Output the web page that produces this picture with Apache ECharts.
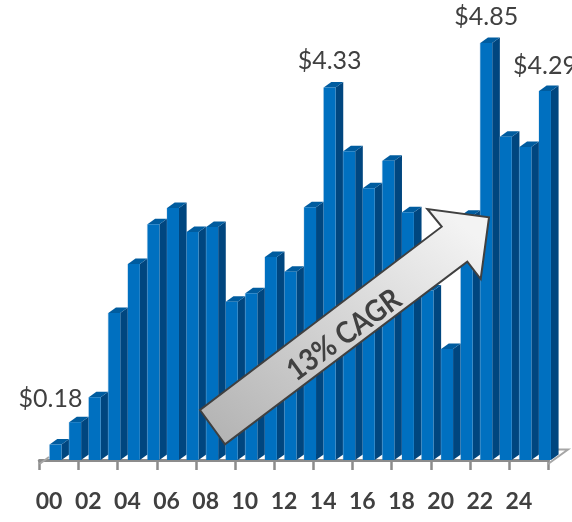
<!DOCTYPE html>
<html><head><meta charset="utf-8">
<style>html,body{margin:0;padding:0;background:#fff}#c{width:572px;height:522px}</style>
<script src="https://cdn.jsdelivr.net/npm/echarts@6/dist/echarts.min.js"></script>
</head><body><div id="c"></div>
<script>
const years = ['00','01','02','03','04','05','06','07','08','09','10','11','12','13','14','15','16','17','18','19','20','21','22','23','24','25'];
const values = [0.18,0.44,0.73,1.71,2.28,2.74,2.93,2.65,2.71,1.84,1.94,2.36,2.19,2.94,4.33,3.59,3.16,3.48,2.88,1.97,1.29,2.84,4.85,3.76,3.64,4.29];
const calloutYears = ['00','14','22','25'];
const arrowText = '13% CAGR';

const FONT = 'Lato, "Open Sans", sans-serif';
const calloutShift = {'00':[-5,-46],'14':[0,-27],'22':[0,-26],'25':[0,-25]};
const chart = echarts.init(document.getElementById('c'), null, {renderer:'canvas'});

function renderBar(params, api){
  const i = params.dataIndex;
  const p = api.coord([api.value(0), api.value(1)]);
  const base = api.coord([api.value(0), 0]);
  const band = api.size([1,0])[0];
  const x0 = p[0]+0.5, w = band*0.61, d = band*0.39, lift = 5.5;
  const y = p[1], b = base[1];
  const kids = [
    {type:'polygon',shape:{points:[[x0+w,y],[x0+w+d,y-lift],[x0+w+d,b-lift],[x0+w,b]]},style:{fill:'#00467f'}},
    {type:'polygon',shape:{points:[[x0,y],[x0+d,y-lift],[x0+w+d,y-lift],[x0+w,y]]},style:{fill:'#005c9f'}},
    {type:'rect',shape:{x:x0-0.6,y:y,width:0.6,height:b-y},style:{fill:'rgba(120,165,205,0.35)'}},
    {type:'rect',shape:{x:x0,y:y,width:w,height:b-y},style:{fill:'#0070c0'}}
  ];
  const yr = years[i];
  if (calloutYears.includes(yr)){
    const s = calloutShift[yr];
    kids.push({type:'text',style:{x:x0+w/2+s[0],y:y+s[1],text:'$'+values[i].toFixed(2),fill:'#404040',
      font:'25px '+FONT,align:'center',verticalAlign:'middle'}});
  }
  return {type:'group',children:kids};
}

const arrowPts = [[200,410],[225,444.3],[467.3,261.7],[480.7,279],[489,217.3],[427.3,209],[441.7,226.7]];

chart.setOption({
  animation:false,
  grid:{left:39.3,width:509,top:30,bottom:62,containLabel:false},
  xAxis:{type:'category',data:years,offset:4,boundaryGap:true,
    axisLine:{show:true,lineStyle:{color:'#8c8c8c',width:3}},
    axisTick:{show:true,interval:1,length:10,alignWithLabel:false,lineStyle:{color:'#8c8c8c',width:2.5}},
    axisLabel:{interval:1,margin:26,color:'#404040',fontFamily:'Lato',fontWeight:'bold',fontSize:23,hideOverlap:false},
    splitLine:{show:false}},
  yAxis:{type:'value',min:0,max:5,show:false,splitLine:{show:false}},
  series:[{type:'custom',renderItem:renderBar,clip:false,encode:{x:0,y:1},z:3,
    data:years.map((y,i)=>[i,values[i]])}],
  graphic:[
    {type:'polyline',z:1,shape:{points:[[39.5,464],[49,457]]},style:{stroke:'#a6a6a6',lineWidth:2,fill:null}},
    {type:'polyline',z:1,shape:{points:[[548,464],[568,449.5],[555,449.5]]},style:{stroke:'#a6a6a6',lineWidth:2,fill:null}},
    {type:'polygon',z:50,shape:{points:arrowPts},
      style:{stroke:'#404040',lineWidth:2,lineJoin:'miter',
        fill:new echarts.graphic.LinearGradient(235,450,430,200,[{offset:0,color:'#b4b4b4'},{offset:1,color:'#f3f3f3'}],true)}},
    {type:'text',z:51,x:344,y:335,rotation:36*Math.PI/180,scaleX:0.9,
      style:{text:arrowText,fill:'#404040',font:'bold 30px '+FONT,align:'center',verticalAlign:'middle'}}
  ]
});
</script></body></html>
